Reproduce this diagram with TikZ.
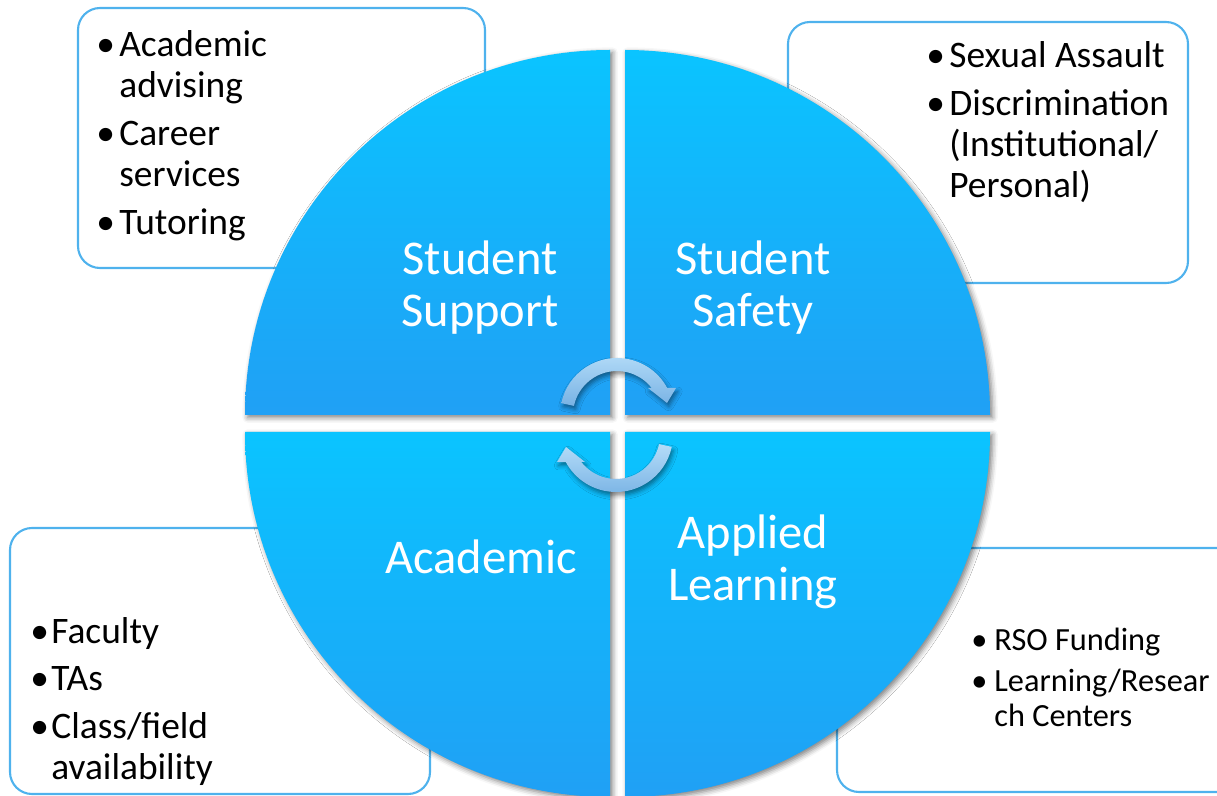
\documentclass[tikz,border=0pt]{standalone}
\usepackage{fontspec}
\setmainfont{Carlito}
\usetikzlibrary{shadows.blur}
\definecolor{quadtop}{RGB}{10,196,255}
\definecolor{quadbot}{RGB}{32,160,245}
\definecolor{caixaborda}{RGB}{79,178,237}
\definecolor{setatop}{RGB}{180,220,248}
\definecolor{setabot}{RGB}{120,178,228}
\newcommand{\marca}[1][0.46cm]{\makebox[#1][l]{\textbullet}}

\begin{document}
\begin{tikzpicture}[x=0.02cm, y=0.02cm,
    caixa/.style={draw=caixaborda, line width=1.2pt, rounded corners=0.44cm, fill=white},
    quadrante/.style={top color=quadtop, bottom color=quadbot,
        blur shadow={shadow xshift=1.5pt, shadow yshift=-1.5pt, shadow blur radius=3pt, shadow opacity=50}},
    seta/.style={top color=setatop, bottom color=setabot,
        blur shadow={shadow xshift=1pt, shadow yshift=-2pt, shadow blur radius=2.5pt, shadow opacity=45}},
    rotulo/.style={text=white, font=\fontsize{27.6}{29.5}\selectfont, inner sep=0pt, anchor=base},
    lista/.style={font=\fontsize{21.3}{23.25}\selectfont, inner sep=0pt, anchor=base west},
    listapeq/.style={font=\fontsize{18.4}{19.8}\selectfont, inner sep=0pt, anchor=base west}]
    \useasboundingbox (0,0) rectangle (1217,795);
    % Caixas de texto
    \draw[caixa] (78,527) rectangle (485,787);
    \draw[caixa] (788,512) rectangle (1188,773);
    \draw[caixa] (10,1) rectangle (430,267);
    \draw[caixa] (837,3) rectangle (1240,247);
    % Quadrantes do circulo
    \path[quadrante] (610,380) -- (245,380) arc[start angle=180, end angle=90, radius=365] -- cycle;
    \path[quadrante] (625,380) -- (625,745) arc[start angle=90, end angle=0, radius=365] -- cycle;
    \path[quadrante] (610,363) -- (610,-2) arc[start angle=270, end angle=180, radius=365] -- cycle;
    \path[quadrante] (625,363) -- (990,363) arc[start angle=0, end angle=-90, radius=365] -- cycle;
    % Rotulos dos quadrantes
    \node[rotulo] (suporte) at (480,520) {\begin{tabular}[t]{@{}c@{}}Student\\ Support\end{tabular}};
    \node[rotulo] (seguranca) at (753,520) {\begin{tabular}[t]{@{}c@{}}Student\\ Safety\end{tabular}};
    \node[rotulo] (academico) at (481,221) {Academic};
    \node[rotulo] (aplicado) at (753,246) {\begin{tabular}[t]{@{}c@{}}Applied\\ Learning\end{tabular}};
    % Setas circulares
    \begin{scope}[shift={(617,380)}]
        \path[seta] (168:57) arc[start angle=168, end angle=28.3, radius=57] -- (59,27) -- (50,12) -- (31,27) -- (34.7,27) arc[start angle=37.9, end angle=168, radius=44] -- cycle;
    \end{scope}
    \begin{scope}[shift={(616,360)}, rotate=180]
        \path[seta] (168:57) arc[start angle=168, end angle=28.3, radius=57] -- (59,27) -- (50,12) -- (31,27) -- (34.7,27) arc[start angle=37.9, end angle=168, radius=44] -- cycle;
    \end{scope}
    % Listas
    \node[lista] (listaSuporte) at (96,738) {\begin{tabular}[t]{@{}l@{}l@{}}
        \marca & Academic\\ & advising\\[4pt]
        \marca & Career\\ & services\\[4pt]
        \marca & Tutoring\end{tabular}};
    \node[lista] (listaSeguranca) at (926,727) {\begin{tabular}[t]{@{}l@{}l@{}}
        \marca & Sexual Assault\\[4pt]
        \marca & Discrimination\\ & (Institutional/\\ & Personal)\end{tabular}};
    \node[lista] (listaAcademico) at (30,152) {\begin{tabular}[t]{@{}l@{}l@{}}
        \marca[0.42cm] & Faculty\\[4pt]
        \marca[0.42cm] & TAs\\[4pt]
        \marca[0.42cm] & Class/field\\ & availability\end{tabular}};
    \node[listapeq] (listaAplicado) at (971,145) {\begin{tabular}[t]{@{}l@{}l@{}}
        \marca[0.46cm] & RSO Funding\\[4pt]
        \marca[0.46cm] & Learning/Resear\\ & ch Centers\end{tabular}};
\end{tikzpicture}
\end{document}
